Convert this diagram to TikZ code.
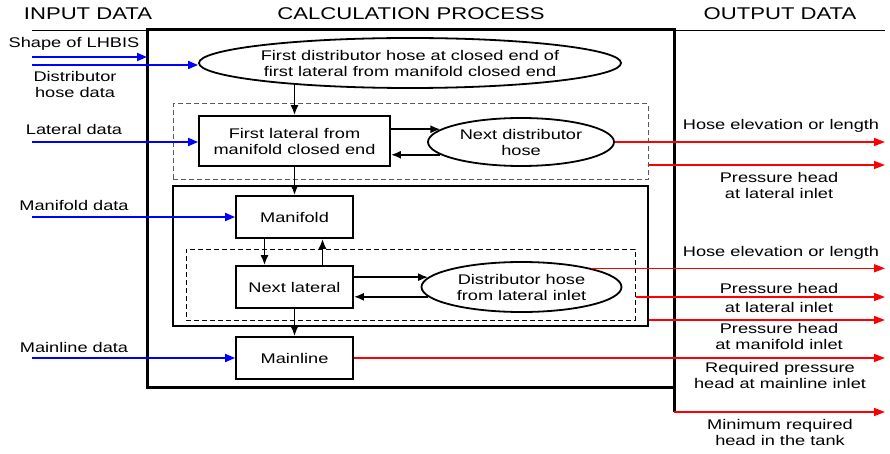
\documentclass[tikz,border=0pt]{standalone}
\usepackage{fontspec}
\setmainfont{Liberation Sans}[FakeStretch=1.3]
\usetikzlibrary{shapes.geometric,arrows.meta}

\begin{document}
\begin{tikzpicture}[x=1pt,y=-1pt,
        font=\fontsize{14}{16}\selectfont,
        colhead/.style={font=\fontsize{17}{20}\selectfont},
        lbl/.style={align=center, inner sep=0pt},
        proc/.style={draw, line width=1.8pt, minimum width=117pt, minimum height=42pt, align=center, inner sep=2pt},
        hose/.style={draw, ellipse, line width=1.8pt, align=center, inner sep=0pt},
        loopbox/.style={draw, line width=1pt, dash pattern=on 5pt off 3pt},
        flow/.style={-{Latex[length=10pt,width=8pt]}, line width=1.6pt},
        indata/.style={blue, line width=1.8pt, -{Triangle[length=10pt,width=8pt]}},
        outdata/.style={red, line width=1.5pt, -{Triangle[length=11pt,width=8pt]}}]

        \useasboundingbox (0,0) rectangle (890,454);

        % column heads
        \node[colhead] (hin) at (88,14) {INPUT DATA};
        \node[colhead] (hcalc) at (411,14) {CALCULATION PROCESS};
        \node[colhead] (hout) at (780,14) {OUTPUT DATA};
        \draw[line width=0.9pt] (32,30) -- (885,30);

        \node[draw, line width=3pt, outer sep=0pt, minimum width=527pt, minimum height=357pt] (calc) at (410.5,208.5) {};
        \coordinate (tank) at ([yshift=-25pt]calc.south east);
        \draw[line width=3pt] (calc.south east) -- (tank);

        \node[loopbox, gray!70!black, minimum width=475pt, minimum height=76pt] (loop1) at (410.5,142) {};
        \node[draw, line width=1.8pt, minimum width=475pt, minimum height=140pt] (mfbox) at (410.5,256) {};
        \node[loopbox, minimum width=449pt, minimum height=71pt] (loop2) at (410.5,284.5) {};

        \node[hose, minimum width=386pt, minimum height=50pt] (first) at (410,63) {First distributor hose at closed end of\\first lateral from manifold closed end};
        \node[proc, minimum width=191pt, minimum height=50pt] (fl) at (294.5,141) {First lateral from\\manifold closed end};
        \node[hose, minimum width=186pt, minimum height=48pt] (nd) at (521,142) {Next distributor\\hose};
        \node[proc] (mf) at (294.5,217) {Manifold};
        \node[proc] (nl) at (294.5,287) {Next lateral};
        \node[hose, minimum width=200pt, minimum height=50pt] (dh) at (521.5,287) {Distributor hose\\from lateral inlet};
        \node[proc] (ml) at (294.5,358) {Mainline};

        % input side
        \node[lbl] (lshape) at (74,44) {Shape of LHBIS};
        \node[lbl] (ldist) at (75,84) {Distributor\\hose data};
        \node[lbl] (llat) at (74,129) {Lateral data};
        \node[lbl] (lmf) at (74,205) {Manifold data};
        \node[lbl] (lml) at (74,347) {Mainline data};

        \coordinate (in1) at (32,57);
        \coordinate (in2) at (32,65);
        \coordinate (in3) at (32,142);
        \coordinate (in4) at (32,217);
        \coordinate (in5) at (32,358);

        \draw[indata] (in1) -- (in1 -| calc.west);
        \draw[indata] (in2) -- (in2 -| first.west);
        \draw[indata] (in3) -- (in3 -| fl.west);
        \draw[indata] (in4) -- (mf.west);
        \draw[indata] (in5) -- (ml.west);

        \draw[flow] (first.190 -| fl.north) -- (fl.north);
        \draw[flow] (fl.east |- nd.171) -- (nd.171);
        \draw[flow] (nd.189) -- (nd.189 -| fl.east);
        \draw[flow] (fl.south) -- (mf.north);
        \draw[flow] ([xshift=-30pt]mf.south) -- ([xshift=-30pt]nl.north);
        \draw[flow] ([xshift=28pt]nl.north) -- ([xshift=28pt]mf.south);
        \draw[flow] (nl.east |- dh.174) -- (dh.174);
        \draw[flow] (dh.186) -- (dh.186 -| nl.east);
        \draw[flow] (nl.south) -- (ml.north);

        % output side
        \coordinate (out1) at (885,142);
        \coordinate (out2) at (885,165);
        \coordinate (out3) at (885,269);
        \coordinate (out4) at (885,297);
        \coordinate (out5) at (885,320);
        \coordinate (out6) at (885,358);
        \coordinate (out7) at (885,412);

        \draw[outdata] (nd.east) -- (out1);
        \draw[outdata] (out2 -| loop1.east) -- (out2);
        \draw[outdata] (dh.15) -- (dh.15 -| out3);
        \draw[outdata] (out4 -| loop2.east) -- (out4);
        \draw[outdata] (out5 -| mfbox.east) -- (out5);
        \draw[outdata] (ml.east) -- (out6);
        \draw[outdata] (tank) -- (out7);

        \node[lbl] (o1) at (781,126) {Hose elevation or length};
        \node[lbl] (o2) at (779,185) {Pressure head\\at lateral inlet};
        \node[lbl] (o3) at (781,253) {Hose elevation or length};
        \node[lbl] (o4) at (779,297.5) {Pressure head\\[3pt]at lateral inlet};
        \node[lbl] (o5) at (779,336) {Pressure head\\at manifold inlet};
        \node[lbl] (o6) at (780,375) {Required pressure\\head at mainline inlet};
        \node[lbl] (o7) at (780,432.5) {Minimum required\\head in the tank};
    \end{tikzpicture}
\end{document}
